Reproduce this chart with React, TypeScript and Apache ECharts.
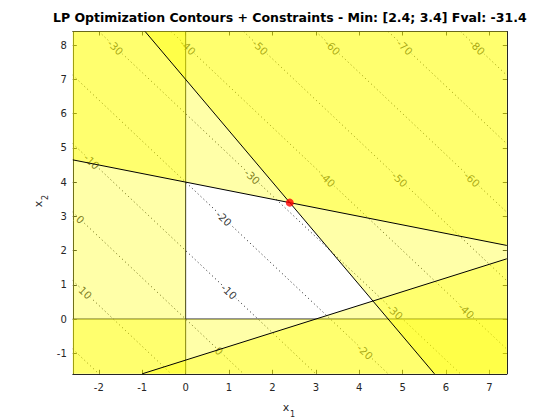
import React, { useEffect, useRef } from "react";
import * as echarts from "echarts";

// ---- data ----
const X_RANGE = [-2.6, 7.4];
const Y_RANGE = [-1.6, 8.4];
const X_TICKS = [-2, -1, 0, 1, 2, 3, 4, 5, 6, 7];
const Y_TICKS = [-1, 0, 1, 2, 3, 4, 5, 6, 7, 8];
const OBJ = [-6, -5]; // f = -6 x1 - 5 x2
const CONTOUR_LEVELS = [20, 10, 0, -10, -20, -30, -40, -50, -60, -70, -80];
// constraints: a1*x1 + a2*x2 <= b
const CON_A = [[-1, 0], [0, -1], [3, 2], [1, 4], [2, -5]];
const CON_B = [0, 0, 14, 16, 6];
const BOUND_IDX = [0, 1];
const LINE_IDX = [2, 3, 4];
const OPT = [2.4, 3.4];
const FVAL = -31.4;
const LABEL_LEVELS = [-30, -40, -50, -60, -70, -80, -10, -30, -40, -50, -60, -20, 0, 10, -10, 0, -20, -30, -40];
const LABEL_X2 = [7.94, 7.94, 7.94, 7.94, 7.94, 7.94, 4.6, 4.16, 4.08, 4.08, 4.08, 2.94, 2.91, 0.77, 0.8, -0.93, -0.96, 0.21, 0.24];

// ---- layout ----
const GRID = { left: 72.8, top: 31.5, width: 434, height: 342.3 };
const FONT = '"DejaVu Sans", "Liberation Sans", Arial, sans-serif';

type P = [number, number];

function boxPoly(): P[] {
  return [
    [X_RANGE[0], Y_RANGE[0]],
    [X_RANGE[1], Y_RANGE[0]],
    [X_RANGE[1], Y_RANGE[1]],
    [X_RANGE[0], Y_RANGE[1]],
  ];
}

// keep part of polygon where a.p >= b (violated side)
function clipViolated(poly: P[], a: number[], b: number): P[] {
  const out: P[] = [];
  const val = (p: P) => a[0] * p[0] + a[1] * p[1] - b;
  for (let i = 0; i < poly.length; i++) {
    const cur = poly[i];
    const nxt = poly[(i + 1) % poly.length];
    const vc = val(cur);
    const vn = val(nxt);
    if (vc >= 0) out.push(cur);
    if ((vc >= 0) !== (vn >= 0)) {
      const t = vc / (vc - vn);
      out.push([cur[0] + t * (nxt[0] - cur[0]), cur[1] + t * (nxt[1] - cur[1])]);
    }
  }
  return out;
}

function lineInBox(a: number[], b: number): P[] {
  const pts: P[] = [];
  const eps = 1e-9;
  if (Math.abs(a[1]) > eps) {
    for (const x of X_RANGE) {
      const y = (b - a[0] * x) / a[1];
      if (y >= Y_RANGE[0] - eps && y <= Y_RANGE[1] + eps) pts.push([x, y]);
    }
  }
  if (Math.abs(a[0]) > eps) {
    for (const y of Y_RANGE) {
      const x = (b - a[1] * y) / a[0];
      if (x >= X_RANGE[0] - eps && x <= X_RANGE[1] + eps) pts.push([x, y]);
    }
  }
  pts.sort((p, q) => p[0] - q[0] || p[1] - q[1]);
  return [pts[0], pts[pts.length - 1]];
}

export default function App() {
  const ref = useRef<HTMLDivElement>(null);
  useEffect(() => {
    if (!ref.current) return;
    const chart = echarts.init(ref.current, null, { renderer: "svg" });

    const pxPerX = GRID.width / (X_RANGE[1] - X_RANGE[0]);
    const pxPerY = GRID.height / (Y_RANGE[1] - Y_RANGE[0]);
    const labelAngle = -(Math.atan(((OBJ[0] / OBJ[1]) * pxPerY) / pxPerX) * 180) / Math.PI;

    const violated = CON_A.map((a, i) => clipViolated(boxPoly(), a, CON_B[i]));

    const series: any[] = [];
    CONTOUR_LEVELS.forEach((L) => {
      series.push({
        type: "line",
        data: lineInBox(OBJ, L),
        symbol: "none",
        silent: true,
        z: 1,
        lineStyle: { color: "#1a1a1a", width: 1, type: [1, 3] },
      });
    });
    series.push({
      type: "scatter",
      z: 2,
      silent: true,
      symbolSize: 1,
      itemStyle: { color: "rgba(0,0,0,0)" },
      data: LABEL_LEVELS.map((L, i) => {
        const x2 = LABEL_X2[i];
        const x1 = (L - OBJ[1] * x2) / OBJ[0];
        return { value: [x1, x2], level: L };
      }),
      label: {
        show: true,
        position: "inside",
        rotate: labelAngle,
        formatter: (p: any) => String(p.data.level),
        fontSize: 10.5,
        fontFamily: FONT,
        color: "#000",
        backgroundColor: "#fff",
        padding: [0, 1],
      },
    });
    BOUND_IDX.forEach((i) => {
      series.push({
        type: "line",
        data: lineInBox(CON_A[i], CON_B[i]),
        symbol: "none",
        silent: true,
        z: 3,
        lineStyle: { color: "#1a1a1a", width: 1 },
      });
    });
    series.push({
      type: "custom",
      z: 4,
      silent: true,
      data: CON_A.map((_, i) => [i]),
      renderItem: (params: any, api: any) => {
        const poly = violated[params.dataIndex];
        if (poly.length < 3) return null;
        return {
          type: "polygon",
          shape: { points: poly.map((p) => api.coord(p)) },
          style: { fill: "rgba(255,255,0,0.34)", stroke: "none" },
        };
      },
    });
    LINE_IDX.forEach((i) => {
      series.push({
        type: "line",
        data: lineInBox(CON_A[i], CON_B[i]),
        symbol: "none",
        silent: true,
        z: 5,
        lineStyle: { color: "#000", width: 1 },
      });
    });
    series.push({
      type: "scatter",
      z: 6,
      data: [OPT],
      symbolSize: 8,
      itemStyle: { color: "#ff0000" },
    });

    const axisCommon = {
      type: "value",
      splitLine: { show: false },
      axisLine: { show: true, onZero: false, lineStyle: { color: "#262626", width: 1 } },
    };

    chart.setOption({
      animation: false,
      backgroundColor: "#fff",
      grid: { ...GRID, containLabel: false },
      xAxis: [
        {
          ...axisCommon,
          position: "bottom",
          min: X_RANGE[0],
          max: X_RANGE[1],
          axisTick: { show: true, inside: true, length: 4, customValues: X_TICKS, lineStyle: { color: "#262626" } },
          axisLabel: { show: true, customValues: X_TICKS, margin: 9, fontSize: 10, fontFamily: FONT, color: "#262626" },
        },
        {
          ...axisCommon,
          position: "top",
          min: X_RANGE[0],
          max: X_RANGE[1],
          axisTick: { show: true, inside: true, length: 4, customValues: X_TICKS, lineStyle: { color: "#262626" } },
          axisLabel: { show: false },
        },
      ],
      yAxis: [
        {
          ...axisCommon,
          position: "left",
          min: Y_RANGE[0],
          max: Y_RANGE[1],
          axisTick: { show: true, inside: true, length: 4, customValues: Y_TICKS, lineStyle: { color: "#262626" } },
          axisLabel: { show: true, customValues: Y_TICKS, margin: 6, fontSize: 10, fontFamily: FONT, color: "#262626" },
        },
        {
          ...axisCommon,
          position: "right",
          min: Y_RANGE[0],
          max: Y_RANGE[1],
          axisTick: { show: true, inside: true, length: 4, customValues: Y_TICKS, lineStyle: { color: "#262626" } },
          axisLabel: { show: false },
        },
      ],
      series,
      graphic: [
        {
          type: "text",
          x: GRID.left + GRID.width / 2,
          y: 17,
          style: {
            text: `LP Optimization Contours + Constraints - Min: [${OPT[0]}; ${OPT[1]}] Fval: ${FVAL}`,
            fontSize: 12.5,
            fontWeight: "bold",
            fontFamily: FONT,
            fill: "#000",
            textAlign: "center",
            textVerticalAlign: "middle",
          },
        },
        {
          type: "group",
          x: 286,
          y: 407,
          children: [
            { type: "text", x: 0, y: 0, style: { text: "x", fontSize: 11, fontFamily: FONT, fill: "#262626", textAlign: "center", textVerticalAlign: "middle" } },
            { type: "text", x: 6.5, y: 7, style: { text: "1", fontSize: 8, fontFamily: FONT, fill: "#262626", textAlign: "center", textVerticalAlign: "middle" } },
          ],
        },
        {
          type: "group",
          x: 38.5,
          y: 204,
          rotation: Math.PI / 2,
          children: [
            { type: "text", x: 0, y: 0, style: { text: "x", fontSize: 11, fontFamily: FONT, fill: "#262626", textAlign: "center", textVerticalAlign: "middle" } },
            { type: "text", x: 6.5, y: 7, style: { text: "2", fontSize: 8, fontFamily: FONT, fill: "#262626", textAlign: "center", textVerticalAlign: "middle" } },
          ],
        },
      ],
    });
    return () => chart.dispose();
  }, []);
  return (
    <div
      ref={ref}
      style={{ position: "absolute", left: 0, top: 0, width: 560, height: 420, background: "#fff" }}
    />
  );
}
